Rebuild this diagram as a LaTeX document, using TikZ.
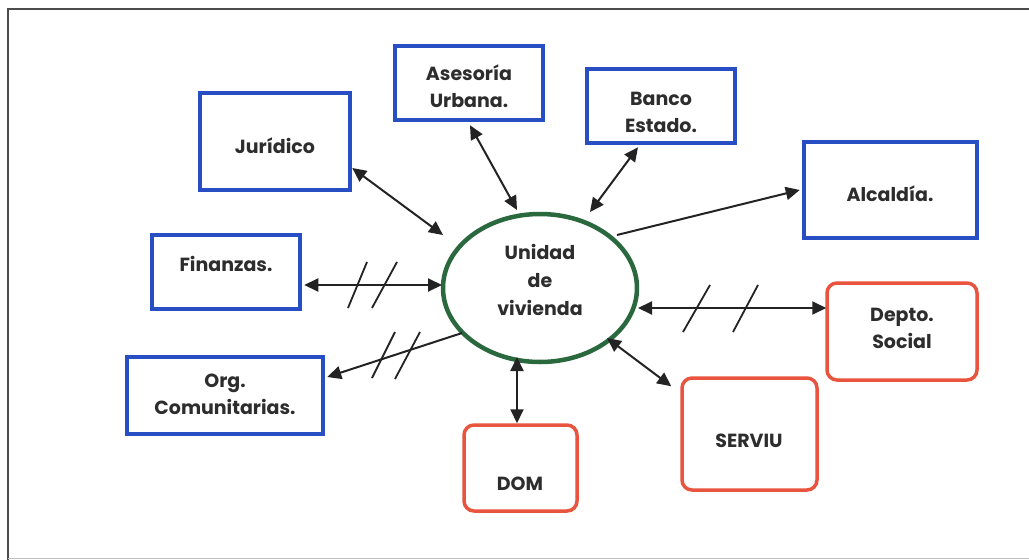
\documentclass[tikz,border=0pt]{standalone}
\usepackage{fontspec}
\setmainfont{Poppins}
\usetikzlibrary{arrows.meta,calc,shapes.geometric}
\definecolor{bblue}{RGB}{40,78,196}
\definecolor{rred}{RGB}{232,84,62}
\definecolor{ggreen}{RGB}{42,104,62}
\definecolor{txt}{RGB}{45,45,45}
\definecolor{ln}{RGB}{35,35,35}
\tikzset{
  bluebox/.style={draw=bblue,line width=4.5pt,inner sep=0pt},
  redbox/.style={draw=rred,line width=3.5pt,rounded corners=10pt,inner sep=0pt},
  lbl/.style={text=txt,font=\fontsize{19}{27}\selectfont\bfseries,align=center},
  arr/.style={draw=ln,line width=2pt,{Triangle[length=14pt,width=13pt]}-{Triangle[length=14pt,width=13pt]}},
  arrone/.style={draw=ln,line width=2pt,-{Triangle[length=14pt,width=13pt]}},
  slash/.style={draw=ln,line width=1.8pt},
}
\begin{document}
\begin{tikzpicture}[x=1pt,y=-1pt]
\useasboundingbox (0,0) rectangle (1029,560);
\fill[white] (0,0) rectangle (1029,560);
% frame
\draw[draw=black!70,line width=2.5pt] (8,560) -- (8,9) -- (1029,9);
\draw[draw=black!25,line width=1pt] (8,558) -- (1029,558);
% boxes
\node[bluebox,minimum width=150pt,minimum height=97pt] (jur) at (275,141.5) {};
\node[bluebox,minimum width=148pt,minimum height=74pt] (ase) at (469,83) {};
\node[bluebox,minimum width=148pt,minimum height=74pt] (ban) at (661,106) {};
\node[bluebox,minimum width=173pt,minimum height=96pt] (alc) at (890.5,190) {};
\node[bluebox,minimum width=148pt,minimum height=74pt] (fin) at (226,272) {};
\node[bluebox,minimum width=196pt,minimum height=77pt] (org) at (225,395.5) {};
\node[redbox,minimum width=113pt,minimum height=86pt] (dom) at (520.5,468) {};
\node[redbox,minimum width=135pt,minimum height=112pt] (ser) at (749.5,434) {};
\node[redbox,minimum width=150pt,minimum height=97pt] (dep) at (902,331.5) {};
\node[draw=ggreen,line width=4.5pt,ellipse,minimum width=194pt,minimum height=148pt,inner sep=0pt] (u) at (540,288) {};
% labels
\node[lbl] (jurT) at (275,146) {Jurídico};
\node[lbl] (aseT) at (469,86) {Asesoría\\Urbana.};
\node[lbl] (banT) at (661,112) {Banco\\Estado.};
\node[lbl] (alcT) at (890,194) {Alcaldía.};
\node[lbl] (finT) at (226,264) {Finanzas.};
\node[lbl] (orgT) at (225,394) {Org.\\Comunitarias.};
\node[lbl] (domT) at (520,484) {DOM};
\node[lbl] (serT) at (749,441) {SERVIU};
\node[lbl] (depT) at (902,328) {Depto.\\Social};
\node[lbl,font=\fontsize{19}{28}\selectfont\bfseries] (uT) at (540,280) {Unidad\\de\\vivienda};
% connectors
\draw[arr] ($(jur.east)+(0,26.5)$) -- ($(u.center)+(-97,-53)$);
\draw[arr] ($(ase.south)+(1,3)$) -- ($(u.center)+(-23,-78)$);
\draw[arr] ($(ban.south)+(-23,2)$) -- ($(u.center)+(50,-76)$);
\draw[arrone] ($(u.center)+(77,-53)$) -- ($(alc.west)+(-2,0)$);
\draw[arr] ($(fin.east)+(2,13)$) -- ($(u.center)+(-98,-3)$);
\draw[arrone] ($(u.center)+(-78,45)$) -- ($(org.east)+(2,-18.5)$);
\draw[arr] ($(u.center)+(98,20)$) -- ($(dep.west)+(1,-23.5)$);
\draw[arr] ($(u.center)+(67,50)$) -- ($(ser.north west)+(-9,10)$);
\draw[arr] ($(u.center)+(-23,69)$) -- ($(dom.north)+(-3.5,0)$);
% slash marks
\draw[slash] (348,308) -- (367,262);
\draw[slash] (372,308) -- (397,262);
\draw[slash] (372,378) -- (395,332);
\draw[slash] (395,379) -- (420,332);
\draw[slash] (683,332) -- (710,285);
\draw[slash] (733,332) -- (758,285);
\end{tikzpicture}
\end{document}
